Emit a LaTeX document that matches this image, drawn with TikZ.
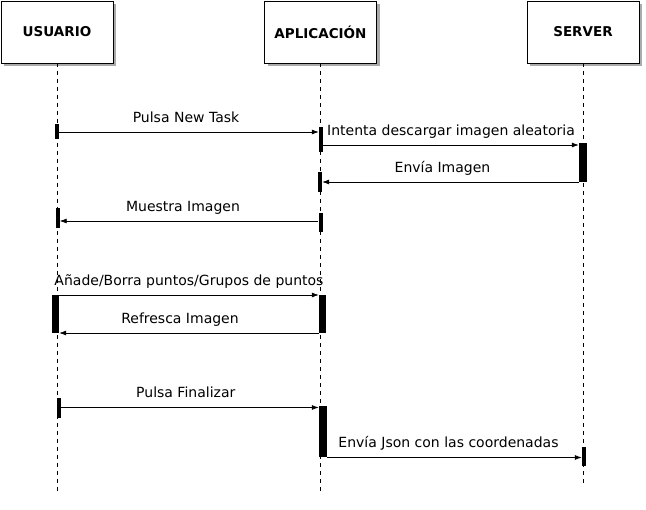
\documentclass[tikz,border=0pt]{standalone}
\usepackage{fontspec}
\setmainfont{DejaVu Sans}
\usetikzlibrary{arrows.meta,shadows}

\begin{document}
\begin{tikzpicture}[x=1pt,y=-1pt,
  actor/.style={draw,fill=white,line width=0.9pt,minimum width=112pt,minimum height=62pt,
    font=\fontsize{13.5}{15}\selectfont\bfseries,
    drop shadow={shadow xshift=3pt,shadow yshift=-3pt,opacity=0.6,fill=black!55}},
  life/.style={dash pattern=on 4pt off 4pt,line width=0.6pt},
  bar/.style={fill=black,inner sep=0pt,minimum width=4pt},
  msg/.style={-{Latex[length=7pt,width=5pt]},line width=0.7pt},
  lbl/.style={font=\fontsize{14}{16}\selectfont,inner sep=0pt,anchor=base,yshift=9.5pt}]
\useasboundingbox (0,0) rectangle (646,510);

%actors
\node[actor] (usr) at (57,32) {USUARIO};
\node[actor] (app) at (320.5,32) {APLICACIÓN};
\node[actor] (srv) at (583,32) {SERVER};

%lifelines
\coordinate (lend) at (0,495);
\coordinate (send) at (0,483);
\draw[life] (usr.south) -- (usr.south |- lend);
\draw[life] (app.south) -- (app.south |- lend);
\draw[life] (srv.south) -- (srv.south |- send);

%activation bars
\node[bar,minimum height=15pt] (u1) at (57,131.5) {};
\node[bar,minimum height=25pt] (a1) at (321,139.5) {};
\node[bar,minimum width=8pt,minimum height=39pt] (s1) at (583,162.5) {};
\node[bar,minimum height=20pt] (a2) at (320,182) {};
\node[bar,minimum height=20pt] (u2) at (57.5,218) {};
\node[bar,minimum height=19pt] (a3) at (320.5,222.5) {};
\node[bar,minimum width=7pt,minimum height=37.5pt] (u3) at (55.5,314) {};
\node[bar,minimum width=7pt,minimum height=38pt] (a4) at (322.5,314) {};
\node[bar,minimum height=20pt] (u4) at (58.5,408) {};
\node[bar,minimum width=8pt,minimum height=51pt] (a5) at (323,431.5) {};
\node[bar,minimum height=19pt] (s2) at (584,456.5) {};

%messages
\coordinate (m1) at (0,132);
\coordinate (m2) at (0,145);
\coordinate (m3) at (0,182);
\coordinate (m4) at (0,221);
\coordinate (m5) at (0,295);
\coordinate (m6) at (0,333);
\coordinate (m7) at (0,407.5);
\coordinate (m8) at (0,457.5);

\draw[msg] (u1.east |- m1) -- (a1.west |- m1) node[lbl,midway,xshift=-3pt]{Pulsa New Task};
\draw[msg] (a1.east |- m2) -- (s1.west |- m2) node[lbl,midway]{Intenta descargar imagen aleatoria};
\draw[msg] (s1.west |- m3) -- (a2.east |- m3) node[lbl,midway,xshift=-8pt]{Envía Imagen};
\draw[msg] (a3.west |- m4) -- (u2.east |- m4) node[lbl,midway,xshift=-6pt]{Muestra Imagen};
\draw[msg] (u3.east |- m5) -- (a4.west |- m5) node[lbl,midway]{Añade/Borra puntos/Grupos de puntos};
\draw[msg] (a4.west |- m6) -- (u3.east |- m6) node[lbl,midway,xshift=-9pt]{Refresca Imagen};
\draw[msg] (u4.east |- m7) -- (a5.west |- m7) node[lbl,midway,xshift=-4pt]{Pulsa Finalizar};
\draw[msg] (a5.east |- m8) -- (s2.west |- m8) node[lbl,midway,xshift=-6pt]{Envía Json con las coordenadas};
\end{tikzpicture}
\end{document}
